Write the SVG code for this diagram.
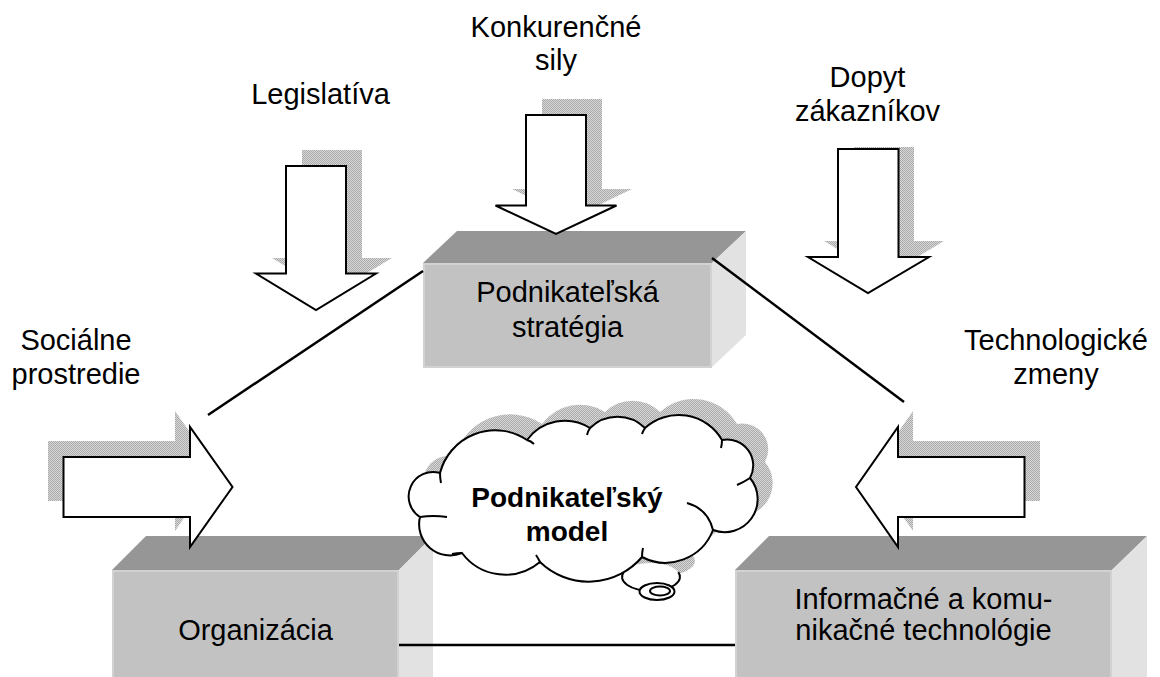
<svg xmlns="http://www.w3.org/2000/svg" width="1160" height="677" viewBox="0 0 1160 677">
<defs>
<pattern id="dith" width="2" height="2" patternUnits="userSpaceOnUse">
<rect width="2" height="2" fill="#d9d9d9"/>
<rect width="1" height="1" fill="#a9a9a9"/>
<rect x="1" y="1" width="1" height="1" fill="#a9a9a9"/>
</pattern>
<path id="cloudPath" d="M440,473 A57,57 0 0 1 527,440 A47,47 0 0 1 590,428 A39,39 0 0 1 645,428 A50,50 0 0 1 722,440 A26,26 0 0 1 750,478 A33,33 0 0 1 713,530 A51,51 0 0 1 642,557 A70,70 0 0 1 540,562 A54,54 0 0 1 462,553 A31,31 0 0 1 420,517 A24.4,24.4 0 0 1 440,473 Z"/>
</defs>
<style>
text{font-family:"Liberation Sans",Arial,sans-serif;font-size:29px;fill:#000;text-anchor:middle}
.bold{font-weight:bold;font-size:28px}
.shadow{fill:url(#dith);stroke:none}
.arrow{fill:#fff;stroke:#000;stroke-width:2;stroke-linejoin:miter}
.top{fill:#969696}
.front{fill:#c2c2c2;stroke:#d2d2d2;stroke-width:2}
.side{fill:#e2e2e2}
.conn{stroke:#000;stroke-width:2.5;fill:none}
.cloud{fill:#fff;stroke:#000;stroke-width:2}
.tick{fill:none;stroke:#000;stroke-width:2}
</style>
<rect width="1160" height="677" fill="#fff"/>

<g id="n-strategia">
<polygon class="top" points="423,263 457,231 746,231 712,263"/>
<polygon class="side" points="712,263 746,231 746,335 712,367"/>
<rect class="front" x="424" y="264" width="287" height="103"/>
<text x="567.5" y="302">Podnikateľská</text>
<text x="567.5" y="336.5">stratégia</text>
</g>

<g id="n-organizacia">
<polygon class="top" points="112,570 146,536 433,536 399,570"/>
<polygon class="side" points="399,570 433,536 433,700 399,700"/>
<rect class="front" x="113" y="571" width="285" height="120"/>
<text x="255.5" y="640">Organizácia</text>
</g>

<g id="n-ikt">
<polygon class="top" points="735,570 769,536 1147,536 1112,570"/>
<polygon class="side" points="1112,570 1147,536 1147,700 1112,700"/>
<rect class="front" x="736" y="571" width="375" height="120"/>
<text x="923.5" y="608.5">Informačné a komu-</text>
<text x="923.5" y="640">nikačné technológie</text>
</g>

<g id="connectors">
<line class="conn" x1="208" y1="415" x2="423" y2="271"/>
<line class="conn" x1="712" y1="258" x2="904" y2="402"/>
<line class="conn" x1="399" y1="645" x2="735" y2="645"/>
</g>

<g id="n-legislativa">
<text x="320.5" y="103.5">Legislatíva</text>
<polygon class="shadow" points="302,150 362,150 362,258 392,258 332,294 272,258 302,258"/>
<polygon class="arrow" points="286,166 346,166 346,273.5 376,273.5 316,310 256,273.5 286,273.5"/>
</g>

<g id="n-konkurencne">
<text x="556" y="37">Konkurenčné</text>
<text x="556" y="70">sily</text>
<polygon class="shadow" points="542,99 602,99 602,189 632,189 572,218 512,189 542,189"/>
<polygon class="arrow" points="526,115 586,115 586,205.5 616.5,205.5 556,234 495.5,205.5 526,205.5"/>
</g>

<g id="n-dopyt">
<text x="867.5" y="87">Dopyt</text>
<text x="867.5" y="120.5">zákazníkov</text>
<polygon class="shadow" points="854,147 914,147 914,241 944,241 884,277 824,241 854,241"/>
<polygon class="arrow" points="838,149 898.5,149 898.5,257 929,257 868,293 808,257 838,257"/>
</g>

<g id="n-socialne">
<text x="76" y="350">Sociálne</text>
<text x="76" y="383.5">prostredie</text>
<polygon class="shadow" points="48,441 175,441 175,411 217,471 175,531 175,501 48,501"/>
<polygon class="arrow" points="63.5,457 190,457 190,427 232.5,487 190,547 190,517 63.5,517"/>
</g>

<g id="n-technologicke">
<text x="1056" y="350">Technologické</text>
<text x="1056" y="383.5">zmeny</text>
<polygon class="shadow" points="1040,441 913,441 913,411 871,471 913,531 913,501 1040,501"/>
<polygon class="arrow" points="1024.5,457 898,457 898,427 856,487 898,547 898,517 1024.5,517"/>
</g>

<g id="n-model">
<use href="#cloudPath" class="shadow" transform="translate(15,-16)"/>
<ellipse class="shadow" cx="666" cy="561" rx="29" ry="14"/>
<ellipse cx="651" cy="577" rx="29" ry="14" fill="#fff"/>
<path class="tick" d="M623.7,572.2 A29,14 0 1 0 678.3,572.2"/>
<use href="#cloudPath" class="cloud"/>
<path class="tick" d="M440,473 Q440,478 441,483"/>
<path class="tick" d="M527,440 Q531,441 534,444"/>
<path class="tick" d="M590,428 Q588,431 587,435"/>
<path class="tick" d="M645,428 Q643,431 642,434"/>
<path class="tick" d="M722,440 Q722,444 721,448"/>
<path class="tick" d="M750,478 Q744,482 737,485"/>
<path class="tick" d="M713,530 Q708,509 687,503"/>
<path class="tick" d="M642,557 Q642,552 643,548"/>
<path class="tick" d="M540,562 Q538,558 536,555"/>
<path class="tick" d="M462,553 Q457,553 452,554"/>
<path class="tick" d="M420,517 Q433,515 447,517"/>
<ellipse cx="657" cy="591.5" rx="17.5" ry="8.5" fill="#fff" stroke="#000" stroke-width="2"/>
<ellipse cx="660" cy="591" rx="10" ry="4.5" fill="#fff" stroke="#000" stroke-width="2"/>
<text class="bold" x="567" y="507">Podnikateľský</text>
<text class="bold" x="567" y="541">model</text>
</g>
</svg>
